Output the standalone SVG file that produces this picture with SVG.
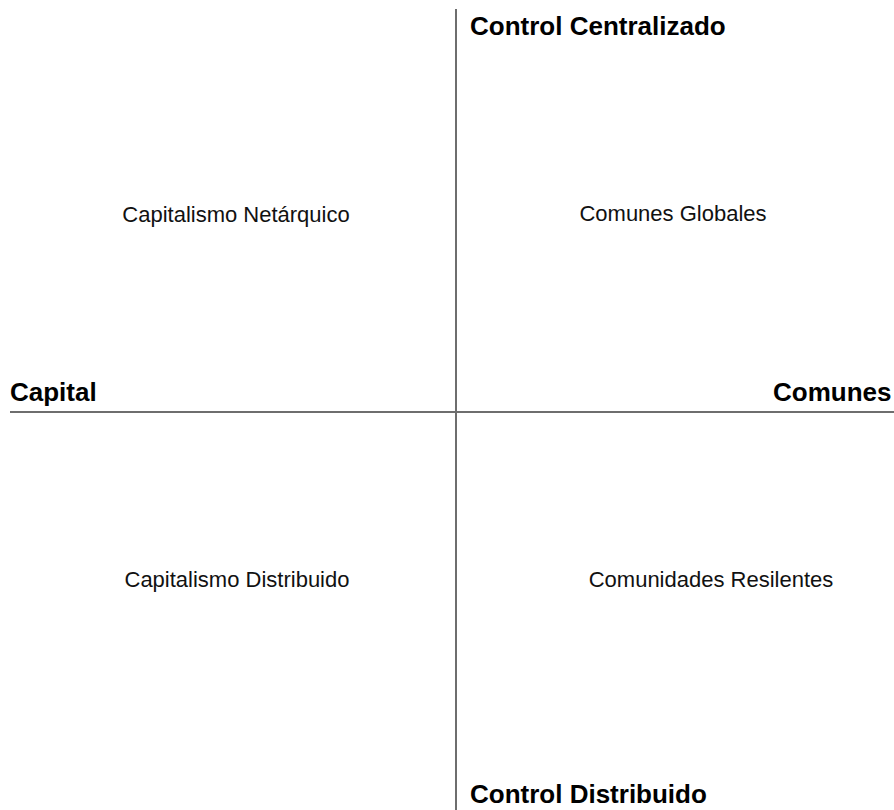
<svg xmlns="http://www.w3.org/2000/svg" width="894" height="810" viewBox="0 0 894 810">
<style>
.axis{stroke:#6e6e6e;stroke-width:2;fill:none}
.bold{font-family:"Liberation Sans",Arial,sans-serif;font-weight:bold;font-size:26px;fill:#000}
.reg{font-family:"Liberation Sans",Arial,sans-serif;font-size:22px;fill:#111;text-anchor:middle}
</style>
<rect width="894" height="810" fill="#fff"/>
<g id="connectors">
<line class="axis" x1="456" y1="9" x2="456" y2="810"/>
<line class="axis" x1="10" y1="412" x2="894" y2="412"/>
</g>
<g id="axis-top"><text class="bold" x="470" y="35">Control Centralizado</text></g>
<g id="axis-bottom"><text class="bold" x="470" y="803">Control Distribuido</text></g>
<g id="axis-left"><text class="bold" x="10" y="401">Capital</text></g>
<g id="axis-right"><text class="bold" x="773" y="401">Comunes</text></g>
<g id="q-netarquico"><text class="reg" x="236" y="222">Capitalismo Netárquico</text></g>
<g id="q-globales"><text class="reg" x="673" y="221">Comunes Globales</text></g>
<g id="q-distribuido"><text class="reg" x="237" y="587">Capitalismo Distribuido</text></g>
<g id="q-resilentes"><text class="reg" x="711" y="587">Comunidades Resilentes</text></g>
</svg>
